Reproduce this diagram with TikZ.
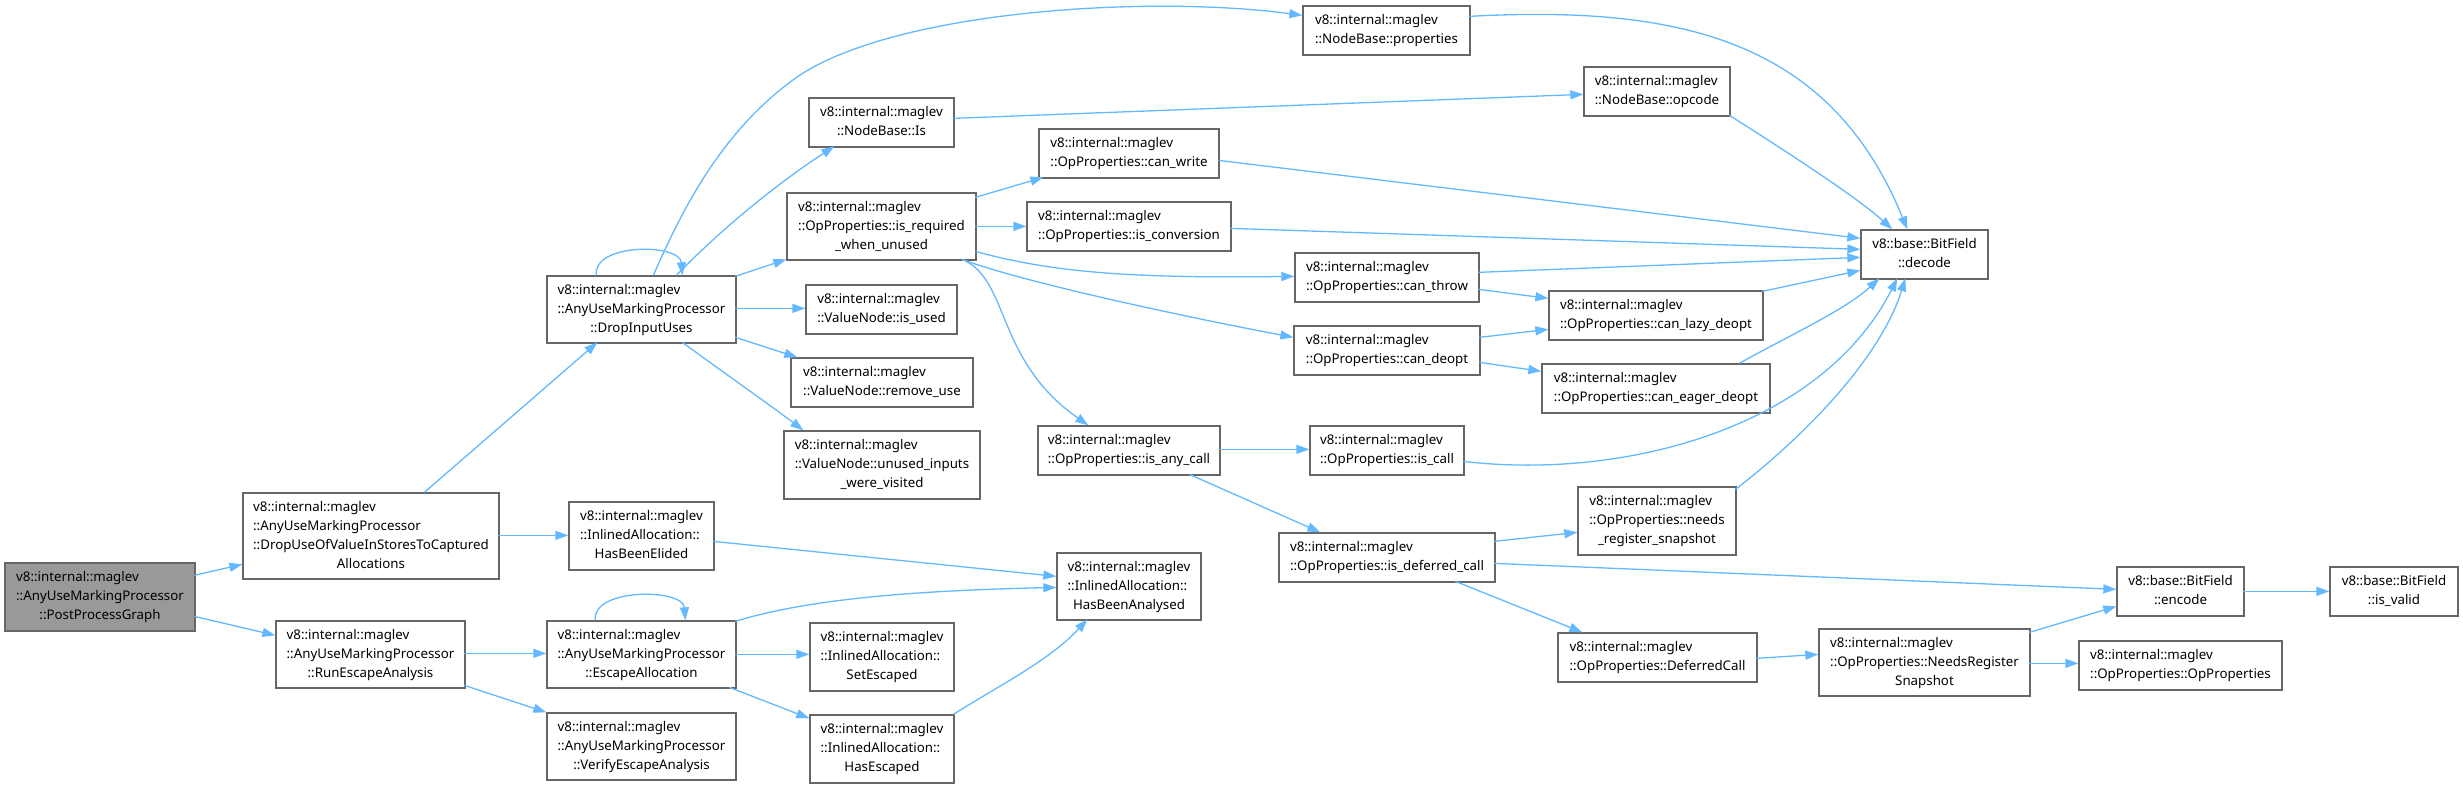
\documentclass[tikz,border=0pt]{standalone}
\usepackage{fontspec}
\usetikzlibrary{arrows.meta}
\newfontfamily\nfont{Noto Sans}
\definecolor{edgeblue}{HTML}{63B8FF}
\definecolor{bordergray}{HTML}{666666}
\definecolor{rootgray}{HTML}{999999}
\newcommand\lc[1]{\multicolumn{1}{@{}c@{}}{#1}}
\newcommand\bx[7][]{\node[box,#1,minimum width={#5-#3},minimum height={#6-#4}] (#2) at ({(#3+#5)/2},{(#4+#6)/2}) {\begin{tabular}{@{}l@{}}#7\end{tabular}};}
\begin{document}
\begin{tikzpicture}[x=1pt,y=-1pt,
  box/.style={draw=bordergray,line width=1.3pt,fill=white,inner sep=0pt,text=black,font=\nfont\fontsize{13.3}{19}\selectfont},
  root/.style={fill=rootgray},
  conn/.style={draw=edgeblue,line width=1.3pt,-{Triangle[length=13pt,width=9pt]}}]
\useasboundingbox (0,0) rectangle (2463,788);
% nodes
\bx[root]{PPG}{5}{563}{195}{631}{v8::internal::maglev\\::AnyUseMarkingProcessor\\\lc{::PostProcessGraph}}
\bx{DU}{243}{493}{499}{579}{v8::internal::maglev\\::AnyUseMarkingProcessor\\::DropUseOfValueInStoresToCaptured\\\lc{Allocations}}
\bx{RE}{276}{621}{465}{688}{v8::internal::maglev\\::AnyUseMarkingProcessor\\\lc{::RunEscapeAnalysis}}
\bx{DI}{547}{276}{736}{343}{v8::internal::maglev\\::AnyUseMarkingProcessor\\\lc{::DropInputUses}}
\bx{IR}{787}{193}{976}{260}{v8::internal::maglev\\::OpProperties::is\_required\\\lc{\_when\_unused}}
\bx{IU}{806}{285}{957}{334}{v8::internal::maglev\\\lc{::ValueNode::is\_used}}
\bx{RU}{791}{358}{973}{407}{v8::internal::maglev\\\lc{::ValueNode::remove\_use}}
\bx{UV}{784}{431}{980}{499}{v8::internal::maglev\\::ValueNode::unused\_inputs\\\lc{\_were\_visited}}
\bx{HE}{569}{502}{714}{570}{v8::internal::maglev\\::InlinedAllocation::\\\lc{HasBeenElided}}
\bx{EA}{547}{621}{736}{688}{v8::internal::maglev\\::AnyUseMarkingProcessor\\\lc{::EscapeAllocation}}
\bx{VE}{547}{713}{736}{780}{v8::internal::maglev\\::AnyUseMarkingProcessor\\\lc{::VerifyEscapeAnalysis}}
\bx{SE}{810}{623}{954}{691}{v8::internal::maglev\\::InlinedAllocation::\\\lc{SetEscaped}}
\bx{HX}{810}{715}{954}{783}{v8::internal::maglev\\::InlinedAllocation::\\\lc{HasEscaped}}
\bx{HA}{1057}{553}{1201}{620}{v8::internal::maglev\\::InlinedAllocation::\\\lc{HasBeenAnalysed}}
\bx{NP}{1303}{6}{1470}{55}{v8::internal::maglev\\\lc{::NodeBase::properties}}
\bx{NI}{809}{98}{954}{147}{v8::internal::maglev\\\lc{::NodeBase::Is}}
\bx{NO}{1584}{67}{1730}{116}{v8::internal::maglev\\\lc{::NodeBase::opcode}}
\bx{CW}{1039}{129}{1219}{178}{v8::internal::maglev\\\lc{::OpProperties::can\_write}}
\bx{IC}{1027}{202}{1231}{251}{v8::internal::maglev\\\lc{::OpProperties::is\_conversion}}
\bx{CT}{1295}{253}{1479}{302}{v8::internal::maglev\\\lc{::OpProperties::can\_throw}}
\bx{CD}{1294}{326}{1480}{375}{v8::internal::maglev\\\lc{::OpProperties::can\_deopt}}
\bx{CL}{1549}{291}{1763}{340}{v8::internal::maglev\\\lc{::OpProperties::can\_lazy\_deopt}}
\bx{CE}{1542}{364}{1770}{413}{v8::internal::maglev\\\lc{::OpProperties::can\_eager\_deopt}}
\bx{AC}{1038}{426}{1220}{475}{v8::internal::maglev\\\lc{::OpProperties::is\_any\_call}}
\bx{CA}{1310}{426}{1464}{475}{v8::internal::maglev\\\lc{::OpProperties::is\_call}}
\bx{NS}{1578}{487}{1736}{555}{v8::internal::maglev\\::OpProperties::needs\\\lc{\_register\_snapshot}}
\bx{DC}{1279}{533}{1495}{582}{v8::internal::maglev\\\lc{::OpProperties::is\_deferred\_call}}
\bx{DF}{1558}{633}{1757}{682}{v8::internal::maglev\\\lc{::OpProperties::DeferredCall}}
\bx{NR}{1819}{629}{2030}{696}{v8::internal::maglev\\::OpProperties::NeedsRegister\\\lc{Snapshot}}
\bx{OP}{2079}{641}{2282}{690}{v8::internal::maglev\\\lc{::OpProperties::OpProperties}}
\bx{EN}{2117}{567}{2244}{616}{v8::base::BitField\\\lc{::encode}}
\bx{IV}{2330}{567}{2458}{616}{v8::base::BitField\\\lc{::is\_valid}}
\bx{BD}{1861}{230}{1988}{279}{v8::base::BitField\\\lc{::decode}}
% connectors
\draw[conn] ([shift={(190,13)}]PPG.north west) -- ([shift={(0,72)}]DU.north west);
\draw[conn] ([shift={(190,54)}]PPG.north west) -- ([shift={(0,15)}]RE.north west);
\draw[conn] ([shift={(182,0)}]DU.north west) -- ([shift={(51,67)}]DI.north west);
\draw[conn] ([shift={(256,43)}]DU.north west) -- ([shift={(0,34)}]HE.north west);
\draw[conn] ([shift={(189,33)}]RE.north west) -- ([shift={(0,33)}]EA.north west);
\draw[conn] ([shift={(189,65)}]RE.north west) -- ([shift={(0,0)}]VE.north west);
\draw[conn] ([shift={(50,0)}]DI.north west) .. controls (592,243) and (680,243) .. ([shift={(136,0)}]DI.north west);
\draw[conn] ([shift={(107,0)}]DI.north west) .. controls (680,215) and (720,130) .. (800,75) .. controls (900,10) and (1150,-5) .. ([shift={(0,10)}]NP.north west);
\draw[conn] ([shift={(130,0)}]DI.north west) .. controls (730,220) and (790,175) .. ([shift={(26,49)}]NI.north west);
\draw[conn] ([shift={(189,1)}]DI.north west) -- ([shift={(0,67)}]IR.north west);
\draw[conn] ([shift={(189,33)}]DI.north west) -- ([shift={(0,24)}]IU.north west);
\draw[conn] ([shift={(189,62)}]DI.north west) -- ([shift={(7,0)}]RU.north west);
\draw[conn] ([shift={(136,67)}]DI.north west) .. controls (720,370) and (770,405) .. ([shift={(20,0)}]UV.north west);
\draw[conn] ([shift={(145,40)}]HE.north west) -- ([shift={(0,24)}]HA.north west);
\draw[conn] ([shift={(189,1)}]EA.north west) .. controls (820,595) and (950,590) .. ([shift={(0,35)}]HA.north west);
\draw[conn] ([shift={(49,0)}]EA.north west) .. controls (591,588) and (683,588) .. ([shift={(139,0)}]EA.north west);
\draw[conn] ([shift={(189,34)}]EA.north west) -- ([shift={(0,32)}]SE.north west);
\draw[conn] ([shift={(183,67)}]EA.north west) -- ([shift={(0,4)}]HX.north west);
\draw[conn] ([shift={(144,0)}]HX.north west) .. controls (1000,685) and (1050,660) .. ([shift={(31,67)}]HA.north west);
\draw[conn] ([shift={(189,5)}]IR.north west) -- ([shift={(5,49)}]CW.north west);
\draw[conn] ([shift={(189,34)}]IR.north west) -- ([shift={(0,25)}]IC.north west);
\draw[conn] ([shift={(189,59)}]IR.north west) .. controls (1060,275) and (1150,278) .. ([shift={(0,24)}]CT.north west);
\draw[conn] ([shift={(176,67)}]IR.north west) .. controls (1010,278) and (1150,310) .. ([shift={(0,12)}]CD.north west);
\draw[conn] ([shift={(176,67)}]IR.north west) .. controls (1010,280) and (995,360) .. ([shift={(51,0)}]AC.north west);
\draw[conn] ([shift={(145,21)}]NI.north west) -- ([shift={(0,28)}]NO.north west);
\draw[conn] ([shift={(167,11)}]NP.north west) .. controls (1680,5) and (1830,40) .. ([shift={(47,0)}]BD.north west);
\draw[conn] ([shift={(146,49)}]NO.north west) .. controls (1800,160) and (1860,200) .. ([shift={(32,0)}]BD.north west);
\draw[conn] ([shift={(180,32)}]CW.north west) -- ([shift={(0,9)}]BD.north west);
\draw[conn] ([shift={(204,27)}]IC.north west) -- ([shift={(0,20)}]BD.north west);
\draw[conn] ([shift={(184,20)}]CT.north west) -- ([shift={(0,28)}]BD.north west);
\draw[conn] ([shift={(184,37)}]CT.north west) -- ([shift={(0,8)}]CL.north west);
\draw[conn] ([shift={(186,12)}]CD.north west) -- ([shift={(0,39)}]CL.north west);
\draw[conn] ([shift={(186,37)}]CD.north west) -- ([shift={(0,8)}]CE.north west);
\draw[conn] ([shift={(214,1)}]CL.north west) -- ([shift={(0,41)}]BD.north west);
\draw[conn] ([shift={(198,0)}]CE.north west) .. controls (1790,335) and (1845,310) .. ([shift={(19,49)}]BD.north west);
\draw[conn] ([shift={(154,36)}]CA.north west) .. controls (1620,480) and (1820,430) .. ([shift={(37,49)}]BD.north west);
\draw[conn] ([shift={(158,3)}]NS.north west) .. controls (1800,440) and (1880,360) .. ([shift={(45,49)}]BD.north west);
\draw[conn] ([shift={(182,24)}]AC.north west) -- ([shift={(0,24)}]CA.north west);
\draw[conn] ([shift={(152,49)}]AC.north west) -- ([shift={(42,0)}]DC.north west);
\draw[conn] ([shift={(216,9)}]DC.north west) -- ([shift={(0,46)}]NS.north west);
\draw[conn] ([shift={(216,31)}]DC.north west) -- ([shift={(0,23)}]EN.north west);
\draw[conn] ([shift={(177,49)}]DC.north west) -- ([shift={(25,0)}]DF.north west);
\draw[conn] ([shift={(199,26)}]DF.north west) -- ([shift={(0,26)}]NR.north west);
\draw[conn] ([shift={(211,4)}]NR.north west) -- ([shift={(0,40)}]EN.north west);
\draw[conn] ([shift={(211,35)}]NR.north west) -- ([shift={(0,23)}]OP.north west);
\draw[conn] ([shift={(127,25)}]EN.north west) -- ([shift={(0,25)}]IV.north west);
\end{tikzpicture}
\end{document}
